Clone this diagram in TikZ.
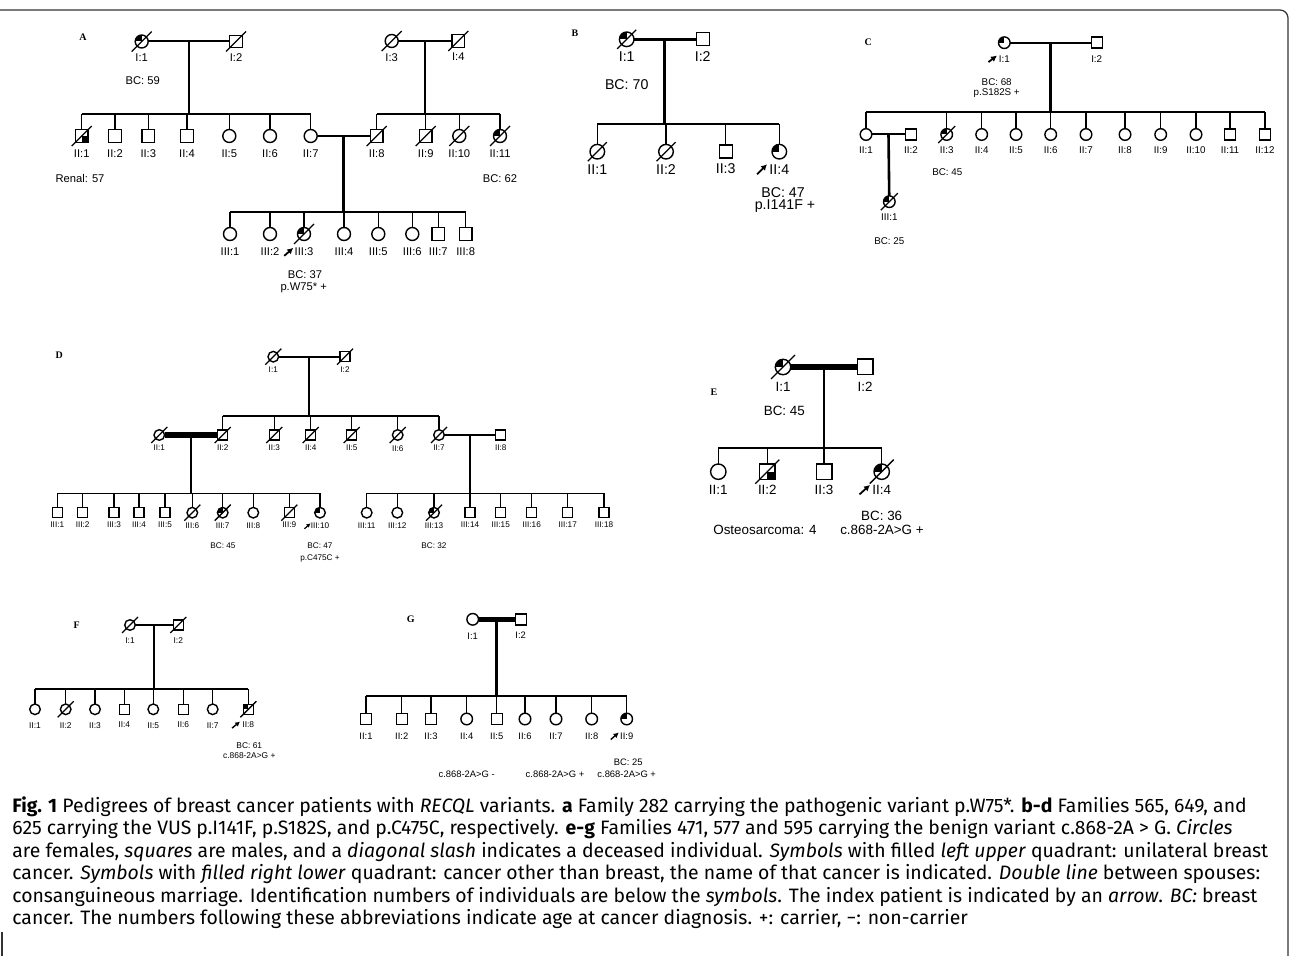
\documentclass[tikz,border=0pt]{standalone}
\usepackage{fontspec}
\setmainfont{Liberation Sans}
\newfontfamily\letterfont{Liberation Serif}
\newfontfamily\capfont{Fira Sans}
\usetikzlibrary{arrows.meta,calc,positioning}
\tikzset{
  circle size/.initial = 6.5pt,
  square size/.initial = 6.25pt,
  slash size/.initial  = 5pt,
  extra/.code     = {\pgfkeysalso{#1}},
  person/.style   = {draw=black, line width=0.7pt, fill=white, inner sep=0pt, outer sep=0pt},
  female/.style   = {person, circle, minimum size=\pgfkeysvalueof{/tikz/circle size}},
  male/.style     = {person, rectangle, minimum size=\pgfkeysvalueof{/tikz/square size}},
  slash/.style    = {draw=black, line width=0.65pt},
  dead/.style     = {append after command={
      ([shift={(-\pgfkeysvalueof{/tikz/slash size},-\pgfkeysvalueof{/tikz/slash size})}]\tikzlastnode.center)
      edge[slash]
      ([shift={(\pgfkeysvalueof{/tikz/slash size},\pgfkeysvalueof{/tikz/slash size})}]\tikzlastnode.center)}},
  bc/.style       = {path picture={\fill[black] (path picture bounding box.center)
                       rectangle (path picture bounding box.north west);}},
  other/.style    = {path picture={\fill[black] (path picture bounding box.center)
                       rectangle (path picture bounding box.south east);}},
  couple/.style   = {line width=1pt},
  consang/.style  = {line width=2.6pt},
  descent/.style  = {line width=1.3pt},
  sibship/.style  = {line width=0.85pt},
  stub/.style     = {line width=0.65pt},
  proband/.style  = {-{Latex[length=3pt,width=3.2pt]}, line width=0.9pt},
  pedfont/.style  = {font=\fontsize{5.6}{6.7}\selectfont},
  lab/.style      = {inner sep=0pt, pedfont},
  note/.style     = {inner sep=0pt, pedfont, anchor=base},
  letter/.style   = {inner sep=0pt, font=\letterfont\bfseries\fontsize{5}{6}\selectfont},
  frame/.style    = {line width=0.6pt, black!80},
}

\begin{document}
\begin{tikzpicture}[x=0.5pt, y=-0.5pt]
  \useasboundingbox (0,0) rectangle (1290,956);
  \draw[frame, rounded corners=4pt] (0,10) -| (1288,956);
  \draw[frame] (2,932) -- (2,956);

  % ---------------- family A
  \begin{scope}[node distance=3.5pt]
    \node[letter] (A-tag) at (83,37) {A};
    \node[female, bc, dead] (A-I1) at (141.7,41.5) {};
    \node[male, dead] (A-I2) at (236,41.5) {};
    \node[female, dead] (A-I3) at (391.7,41) {};
    \node[male, dead] (A-I4) at (458.3,41) {};
    \foreach \n in {1,...,4}
      \node[lab, below=2.7pt of A-I\n] (A-I\n-id) {I:\n};
    \draw[couple] (A-I1) -- (A-I2);
    \draw[couple] (A-I3) -- (A-I4);
    \coordinate (A-m1) at ($(A-I1)!0.5!(A-I2)$);
    \coordinate (A-m2) at ($(A-I3)!0.5!(A-I4)$);
    \coordinate (A-s2) at (0,114.3);
    \draw[descent] (A-m1) -- (A-m1 |- A-s2);
    \draw[descent] (A-m2) -- (A-m2 |- A-s2);
    \foreach \x/\s/\n/\e in {81.7/male/1/{dead,other}, 115/male/2/{}, 148.3/male/3/{},
        187/male/4/{}, 229.3/female/5/{}, 270/female/6/{}, 310.7/female/7/{},
        376.7/male/8/dead, 425.7/male/9/dead, 459.3/female/10/dead, 500/female/11/{dead,bc}}{
      \node[\s, extra/.expand once=\e] (A-II\n) at (\x,136) {};
      \node[lab, below=of A-II\n] (A-II\n-id) {II:\n};
      \draw[stub] (A-II\n) -- (A-II\n |- A-s2);
    }
    \draw[sibship] (A-II1 |- A-s2) -- (A-II7 |- A-s2);
    \draw[sibship] (A-II8 |- A-s2) -- (A-II11 |- A-s2);
    \draw[couple] (A-II7) -- (A-II8);
    \coordinate (A-m3) at ($(A-II7)!0.5!(A-II8)$);
    \coordinate (A-s3) at (0,211.7);
    \draw[descent] (A-m3) -- (A-m3 |- A-s3);
    \foreach \x/\s/\n/\e in {230/female/1/{}, 270/female/2/{}, 304/female/3/{dead,bc},
        344/female/4/{}, 378.3/female/5/{}, 412.3/female/6/{}, 438.3/male/7/{}, 465.7/male/8/{}}{
      \node[\s, extra/.expand once=\e] (A-III\n) at (\x,234) {};
      \node[lab, below=of A-III\n] (A-III\n-id) {III:\n};
      \draw[stub] (A-III\n) -- (A-III\n |- A-s3);
    }
    \draw[sibship] (A-III1 |- A-s3) -- (A-III8 |- A-s3);
    \draw[proband] ([shift={(-10,4)}]A-III3-id.west) -- ([shift={(-1,-4)}]A-III3-id.west);
    \node[note] (A-n1) at (142.7,85) {BC: 59};
    \node[note] (A-n2) at (80,182.3) {Renal: 57};
    \node[note] (A-n3) at (500,182.3) {BC: 62};
    \node[note] (A-n4) at (305,279) {BC: 37};
    \node[note] (A-n5) at (303.7,290.5) {p.W75* +};
  \end{scope}

  % ---------------- family B
  \begin{scope}[circle size=7.3pt, square size=6.5pt, slash size=4.75pt, node distance=2.5pt,
      pedfont/.style={font=\fontsize{7.1}{8.5}\selectfont}]
    \node[letter] (B-tag) at (575,33) {B};
    \node[female, bc, dead] (B-I1) at (626.7,39.3) {};
    \node[male] (B-I2) at (702.7,39.3) {};
    \foreach \n in {1,2}
      \node[lab, below=of B-I\n] (B-I\n-id) {I:\n};
    \draw[couple, line width=1.3pt] (B-I1) -- (B-I2);
    \coordinate (B-m1) at ($(B-I1)!0.5!(B-I2)$);
    \coordinate (B-s2) at (0,124);
    \draw[descent] (B-m1) -- (B-m1 |- B-s2);
    \foreach \x/\s/\n/\e in {597.3/female/1/dead, 666/female/2/dead, 725.7/male/3/{}, 779.3/female/4/bc}{
      \node[\s, extra/.expand once=\e] (B-II\n) at (\x,151.7) {};
      \node[lab, below=of B-II\n] (B-II\n-id) {II:\n};
      \draw[stub] (B-II\n) -- (B-II\n |- B-s2);
    }
    \draw[sibship] (B-II1 |- B-s2) -- (B-II4 |- B-s2);
    \draw[proband] ([shift={(-12,5)}]B-II4-id.west) -- ([shift={(-2,-5)}]B-II4-id.west);
    \node[note] (B-n1) at (626.7,90) {BC: 70};
    \node[note] (B-n2) at (783,197.5) {BC: 47};
    \node[note] (B-n3) at (785,210) {p.I141F +};
  \end{scope}

  % ---------------- family C
  \begin{scope}[circle size=5.8pt, square size=5.5pt, slash size=4.25pt, node distance=3pt,
      pedfont/.style={font=\fontsize{4.9}{5.9}\selectfont}]
    \node[letter] (C-tag) at (868.3,42.7) {C};
    \node[female, bc] (C-I1) at (1004.3,42.7) {};
    \node[male] (C-I2) at (1096.7,42.7) {};
    \foreach \n in {1,2}
      \node[lab, below=3.4pt of C-I\n] (C-I\n-id) {I:\n};
    \draw[couple] (C-I1) -- (C-I2);
    \coordinate (C-m1) at ($(C-I1)!0.5!(C-I2)$);
    \coordinate (C-s2) at (0,111.7);
    \draw[descent] (C-m1) -- (C-m1 |- C-s2);
    \node[male] (C-II2) at (911,134.5) {};
    \node[lab, below=of C-II2] (C-II2-id) {II:2};
    \foreach \x/\s/\n/\e in {866/female/1/{}, 946.7/female/3/{dead,bc}, 981.7/female/4/{},
        1016/female/5/{}, 1050.7/female/6/{}, 1086/female/7/{}, 1125/female/8/{},
        1160.7/female/9/{}, 1196/female/10/{}, 1230/male/11/{}, 1265/male/12/{}}{
      \node[\s, extra/.expand once=\e] (C-II\n) at (\x,134.5) {};
      \node[lab, below=of C-II\n] (C-II\n-id) {II:\n};
      \draw[stub] (C-II\n) -- (C-II\n |- C-s2);
    }
    \draw[sibship] (C-II1 |- C-s2) -- (C-II12 |- C-s2);
    \draw[couple] (C-II1) -- (C-II2);
    \coordinate (C-m2) at ($(C-II1)!0.5!(C-II2)$);
    \node[female, bc, dead] (C-III1) at (889.3,201.7) {};
    \node[lab, below=of C-III1] (C-III1-id) {III:1};
    \draw[descent] (C-m2) -- (C-III1);
    \draw[proband] ([shift={(-10,3)}]C-I1-id.west) -- ([shift={(-1.5,-3.5)}]C-I1-id.west);
    \node[note] (C-n1) at (996.7,86) {BC: 68};
    \node[note] (C-n2) at (996.7,95.3) {p.S182S +};
    \node[note] (C-n3) at (947.3,175.2) {BC: 45};
    \node[note] (C-n4) at (889.3,244.2) {BC: 25};
  \end{scope}

  % ---------------- family D
  \begin{scope}[circle size=5.3pt, square size=5pt, slash size=4pt, node distance=2.3pt,
      pedfont/.style={font=\fontsize{4.1}{5}\selectfont}]
    \node[letter] (D-tag) at (59.3,355) {D};
    \node[female, dead] (D-I1) at (273.3,356.7) {};
    \node[male, dead] (D-I2) at (345,356.7) {};
    \foreach \n in {1,2}
      \node[lab, below=of D-I\n] (D-I\n-id) {I:\n};
    \draw[couple] (D-I1) -- (D-I2);
    \coordinate (D-m1) at ($(D-I1)!0.5!(D-I2)$);
    \coordinate (D-s2) at (0,416);
    \draw[descent] (D-m1) -- (D-m1 |- D-s2);
    \node[female, dead] (D-II1) at (159.3,435) {};
    \node[male] (D-II8) at (500.7,435) {};
    \node[lab, below=of D-II1] (D-II1-id) {II:1};
    \node[lab, below=of D-II8] (D-II8-id) {II:8};
    \foreach \x/\s/\n in {222.7/male/2, 274.3/male/3, 310.7/male/4, 351.7/male/5,
        397.7/female/6, 439/female/7}{
      \node[\s, dead] (D-II\n) at (\x,435) {};
      \node[lab, below=of D-II\n] (D-II\n-id) {II:\n};
      \draw[stub] (D-II\n) -- (D-II\n |- D-s2);
    }
    \draw[sibship] (D-II2 |- D-s2) -- (D-II7 |- D-s2);
    \draw[consang] (D-II1) -- (D-II2);
    \draw[couple] (D-II7) -- (D-II8);
    \coordinate (D-m2) at ($(D-II1)!0.5!(D-II2)$);
    \coordinate (D-m3) at ($(D-II7)!0.5!(D-II8)$);
    \coordinate (D-s3) at (0,493.5);
    \draw[descent] (D-m2) -- (D-m2 |- D-s3);
    \draw[descent] (D-m3) -- (D-m3 |- D-s3);
    \foreach \x/\s/\n/\e in {57.3/male/1/{}, 82.7/male/2/{}, 114/male/3/{}, 139/male/4/{},
        165/male/5/{}, 192.3/female/6/dead, 222.7/female/7/{dead,bc}, 253.3/female/8/{},
        289.3/male/9/dead, 320/female/10/bc, 366.7/female/11/{}, 397.3/female/12/{},
        434/female/13/{dead,bc}, 470/male/14/{}, 500.7/male/15/{}, 531.7/male/16/{},
        567.7/male/17/{}, 604/male/18/{}}{
      \node[\s, extra/.expand once=\e] (D-III\n) at (\x,512.7) {};
      \node[lab, below=2pt of D-III\n] (D-III\n-id) {III:\n};
      \draw[stub] (D-III\n) -- (D-III\n |- D-s3);
    }
    \draw[sibship] (D-III1 |- D-s3) -- (D-III10 |- D-s3);
    \draw[sibship] (D-III11 |- D-s3) -- (D-III18 |- D-s3);
    \draw[proband, -{Latex[length=2pt,width=2.2pt]}, line width=0.6pt]
      ([shift={(-6,3.5)}]D-III10-id.west) -- ([shift={(0,-2)}]D-III10-id.west);
    \node[note] (D-n1) at (223,549) {BC: 45};
    \node[note] (D-n2) at (320,549) {BC: 47};
    \node[note] (D-n3) at (320,560) {p.C475C +};
    \node[note] (D-n4) at (434,549) {BC: 32};
  \end{scope}

  % ---------------- family E
  \begin{scope}[circle size=7.7pt, square size=7.8pt, slash size=6pt, node distance=2.5pt,
      pedfont/.style={font=\fontsize{6.7}{8}\selectfont}]
    \node[letter] (E-tag) at (714,392) {E};
    \node[female, bc, dead] (E-I1) at (783,367) {};
    \node[male] (E-I2) at (865,367) {};
    \foreach \n in {1,2}
      \node[lab, below=3.5pt of E-I\n] (E-I\n-id) {I:\n};
    \draw[consang] (E-I1) -- (E-I2);
    \coordinate (E-m1) at ($(E-I1)!0.5!(E-I2)$);
    \coordinate (E-s2) at (0,447.7);
    \draw[descent] (E-m1) -- (E-m1 |- E-s2);
    \foreach \x/\s/\n/\e in {718.3/female/1/{}, 767.3/male/2/{dead,other}, 824/male/3/{},
        881.7/female/4/{dead,bc}}{
      \node[\s, extra/.expand once=\e] (E-II\n) at (\x,471.7) {};
      \node[lab, below=of E-II\n] (E-II\n-id) {II:\n};
      \draw[stub] (E-II\n) -- (E-II\n |- E-s2);
    }
    \draw[sibship] (E-II1 |- E-s2) -- (E-II4 |- E-s2);
    \draw[proband] ([shift={(-12.5,5)}]E-II4-id.west) -- ([shift={(-2,-4.5)}]E-II4-id.west);
    \node[note] (E-n1) at (784.3,415.8) {BC: 45};
    \node[note] (E-n2) at (881.7,520.5) {BC: 36};
    \node[note] (E-n3) at (765,534.8) {Osteosarcoma: 4};
    \node[note] (E-n4) at (882,534.8) {c.868-2A>G +};
  \end{scope}

  % ---------------- family F
  \begin{scope}[circle size=5.3pt, square size=5pt, slash size=4pt, node distance=3.7pt,
      pedfont/.style={font=\fontsize{4.2}{5}\selectfont}]
    \node[letter] (F-tag) at (76.7,625) {F};
    \node[female, dead] (F-I1) at (130,625) {};
    \node[male, dead] (F-I2) at (178.3,625) {};
    \foreach \n in {1,2}
      \node[lab, below=of F-I\n] (F-I\n-id) {I:\n};
    \draw[couple] (F-I1) -- (F-I2);
    \coordinate (F-m1) at ($(F-I1)!0.5!(F-I2)$);
    \coordinate (F-s2) at (0,689.3);
    \draw[descent] (F-m1) -- (F-m1 |- F-s2);
    \foreach \x/\s/\n/\e in {35/female/1/{}, 65.7/female/2/dead, 95/female/3/{},
        124.3/male/4/{}, 153.3/female/5/{}, 183.3/male/6/{}, 212.7/female/7/{},
        248.3/male/8/{dead,bc}}{
      \node[\s, extra/.expand once=\e] (F-II\n) at (\x,709.3) {};
      \node[lab, below=of F-II\n] (F-II\n-id) {II:\n};
      \draw[stub] (F-II\n) -- (F-II\n |- F-s2);
    }
    \draw[sibship] (F-II1 |- F-s2) -- (F-II8 |- F-s2);
    \draw[proband, -{Latex[length=2.4pt,width=2.6pt]}, line width=0.7pt]
      ([shift={(-10,3)}]F-II8-id.west) -- ([shift={(-2,-3.5)}]F-II8-id.west);
    \node[note] (F-n1) at (249.3,748.7) {BC: 61};
    \node[note] (F-n2) at (249.3,758.7) {c.868-2A>G +};
  \end{scope}

  % ---------------- family G
  \begin{scope}[circle size=5.8pt, square size=5.5pt, slash size=4.25pt, node distance=4pt,
      pedfont/.style={font=\fontsize{4.7}{5.6}\selectfont}]
    \node[letter] (G-tag) at (410.7,619.3) {G};
    \node[female] (G-I1) at (472.7,619.3) {};
    \node[male] (G-I2) at (520.7,619.3) {};
    \foreach \n in {1,2}
      \node[lab, below=3.6pt of G-I\n] (G-I\n-id) {I:\n};
    \draw[consang] (G-I1) -- (G-I2);
    \coordinate (G-m1) at ($(G-I1)!0.5!(G-I2)$);
    \coordinate (G-s2) at (0,695.7);
    \draw[descent] (G-m1) -- (G-m1 |- G-s2);
    \foreach \x/\s/\n/\e in {366/male/1/{}, 401.7/male/2/{}, 431/male/3/{}, 466.7/female/4/{},
        496.7/male/5/{}, 525/female/6/{}, 556/female/7/{}, 591.7/female/8/{}, 626.7/female/9/bc}{
      \node[\s, extra/.expand once=\e] (G-II\n) at (\x,719) {};
      \node[lab, below=of G-II\n] (G-II\n-id) {II:\n};
      \draw[stub] (G-II\n) -- (G-II\n |- G-s2);
    }
    \draw[sibship] (G-II1 |- G-s2) -- (G-II9 |- G-s2);
    \draw[proband, -{Latex[length=2.6pt,width=2.8pt]}, line width=0.7pt]
      ([shift={(-9,3)}]G-II9-id.west) -- ([shift={(-1,-4)}]G-II9-id.west);
    \node[note] (G-n1) at (628.3,765.7) {BC: 25};
    \node[note] (G-n2) at (466.7,777.4) {c.868-2A>G -};
    \node[note] (G-n3) at (555,777.4) {c.868-2A>G +};
    \node[note] (G-n4) at (626.7,777.4) {c.868-2A>G +};
  \end{scope}

  % ---------------- caption
  \node[anchor=north west, inner sep=0pt, align=left,
        font=\capfont\fontsize{9.7}{11.25}\selectfont] (caption) at (12,796)
  {\textbf{Fig. 1} Pedigrees of breast cancer patients with \textit{RECQL} variants. \textbf{a} Family 282 carrying the pathogenic variant p.W75*. \textbf{b-d} Families 565, 649, and\\
   625 carrying the VUS p.I141F, p.S182S, and p.C475C, respectively. \textbf{e-g} Families 471, 577 and 595 carrying the benign variant c.868-2A > G. \textit{Circles}\\
   are females, \textit{squares} are males, and a \textit{diagonal slash} indicates a deceased individual. \textit{Symbols} with filled \textit{left upper} quadrant: unilateral breast\\
   cancer. \textit{Symbols} with \textit{filled right lower} quadrant: cancer other than breast, the name of that cancer is indicated. \textit{Double line} between spouses:\\
   consanguineous marriage. Identification numbers of individuals are below the \textit{symbols}. The index patient is indicated by an \textit{arrow}. \textit{BC:} breast\\
   cancer. The numbers following these abbreviations indicate age at cancer diagnosis. +: carrier, −: non-carrier};
\end{tikzpicture}
\end{document}
